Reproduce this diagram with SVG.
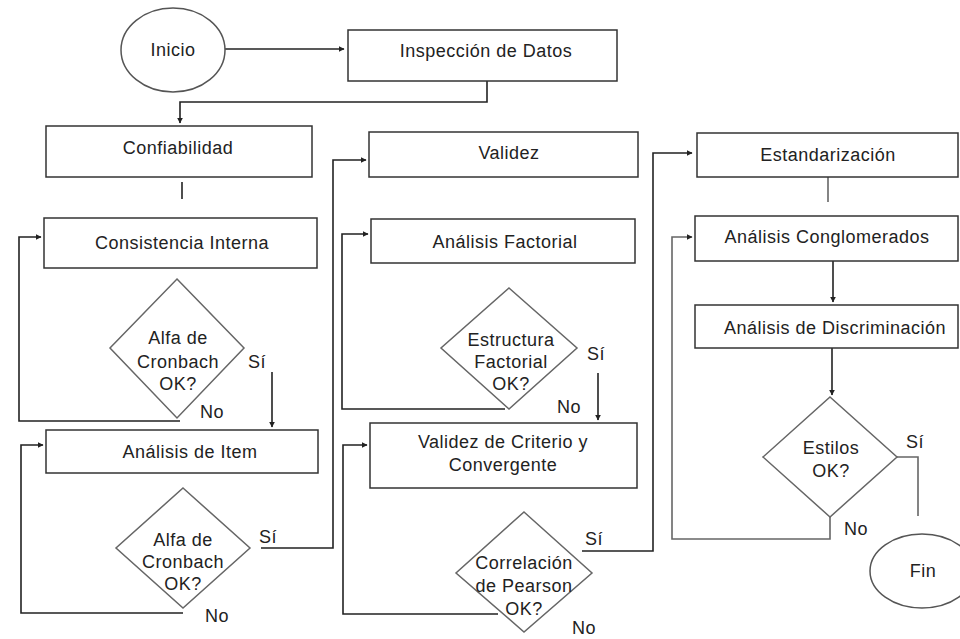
<svg xmlns="http://www.w3.org/2000/svg" width="960" height="639" viewBox="0 0 960 639">
<defs>
<style>
.box{fill:#fff;stroke:#333;stroke-width:1.5}
.dia{fill:#fff;stroke:#666;stroke-width:1.5}
.ell{fill:#fff;stroke:#555;stroke-width:1.5}
text{font-family:"Liberation Sans",Arial,sans-serif;font-size:18px;fill:#222;letter-spacing:0.5px}
.c{text-anchor:middle}
.ln{fill:none;stroke:#222;stroke-width:1.6}
.gl{fill:none;stroke:#666;stroke-width:1.6}
.ar{marker-end:url(#ah)}
</style>
<marker id="ah" viewBox="0 0 10 10" refX="9" refY="5" markerWidth="6" markerHeight="6" markerUnits="userSpaceOnUse" orient="auto">
<path d="M0,0 L10,5 L0,10 z" fill="#222"/>
</marker>
</defs>
<rect width="960" height="639" fill="#fff"/>

<g id="connectors">
<line class="ln ar" x1="225" y1="49" x2="344" y2="49"/>
<polyline class="ln ar" points="487,81 487,102 180,102 180,123"/>
<line class="ln" x1="182" y1="182" x2="182" y2="199"/>
<polyline class="ln ar" points="180,421 19,421 19,237 41,237"/>
<line class="ln ar" x1="272" y1="372" x2="272" y2="427"/>
<polyline class="ln ar" points="183,613 21,613 21,445 43,445"/>
<polyline class="ln ar" points="261,548 333,548 333,160 366,160"/>
<polyline class="ln ar" points="505,409 342,409 342,234 368,234"/>
<line class="ln ar" x1="598" y1="373" x2="598" y2="420"/>
<polyline class="ln ar" points="498,614 343,614 343,445 367,445"/>
<polyline class="ln ar" points="582,551 653,551 653,153 692,153"/>
<line class="gl" x1="828" y1="177" x2="828" y2="202"/>
<line class="ln ar" x1="833" y1="261" x2="833" y2="302"/>
<line class="ln ar" x1="832" y1="348" x2="832" y2="395"/>
<polyline class="gl ar" points="830,517 830,539 672,539 672,237 692,237"/>
<polyline class="gl" points="897,457 918,457 918,516"/>
</g>

<g id="inicio">
<ellipse class="ell" cx="173" cy="50" rx="52" ry="42"/>
<text class="c" x="173" y="56">Inicio</text>
</g>
<g id="inspeccion">
<rect class="box" x="348" y="30" width="269" height="51"/>
<text class="c" x="486" y="57">Inspección de Datos</text>
</g>
<g id="confiabilidad">
<rect class="box" x="46" y="126" width="266" height="51"/>
<text class="c" x="178" y="154">Confiabilidad</text>
</g>
<g id="consistencia">
<rect class="box" x="44" y="218" width="273" height="50"/>
<text class="c" x="182" y="249">Consistencia Interna</text>
</g>
<g id="decision1">
<polygon class="dia" points="177,279 244,348 177,418 110,348"/>
<text class="c" x="178" y="344">Alfa de</text>
<text class="c" x="178" y="368">Cronbach</text>
<text class="c" x="178" y="390">OK?</text>
<text x="248" y="368">Sí</text>
<text x="200" y="418">No</text>
</g>
<g id="item">
<rect class="box" x="46" y="430" width="272" height="43"/>
<text class="c" x="190" y="458">Análisis de Item</text>
</g>
<g id="decision2">
<polygon class="dia" points="183,488 250,548 183,608 116,548"/>
<text class="c" x="183" y="546">Alfa de</text>
<text class="c" x="183" y="568">Cronbach</text>
<text class="c" x="183" y="590">OK?</text>
<text x="259" y="543">Sí</text>
<text x="205" y="622">No</text>
</g>
<g id="validez">
<rect class="box" x="369" y="132" width="269" height="45"/>
<text class="c" x="509" y="159">Validez</text>
</g>
<g id="factorial">
<rect class="box" x="371" y="219" width="264" height="44"/>
<text class="c" x="505" y="248">Análisis Factorial</text>
</g>
<g id="decision3">
<polygon class="dia" points="509,288 577,348 509,409 441,348"/>
<text class="c" x="511" y="346">Estructura</text>
<text class="c" x="511" y="368">Factorial</text>
<text class="c" x="511" y="390">OK?</text>
<text x="587" y="360">Sí</text>
<text x="557" y="413">No</text>
</g>
<g id="criterio">
<rect class="box" x="370" y="423" width="267" height="65"/>
<text class="c" x="503" y="448">Validez de Criterio y</text>
<text class="c" x="503" y="471">Convergente</text>
</g>
<g id="decision4">
<polygon class="dia" points="524,512 592,573 524,632 456,573"/>
<text class="c" x="524" y="569">Correlación</text>
<text class="c" x="524" y="592">de Pearson</text>
<text class="c" x="524" y="615">OK?</text>
<text x="585" y="545">Sí</text>
<text x="572" y="634">No</text>
</g>
<g id="estandarizacion">
<rect class="box" x="697" y="133" width="261" height="44"/>
<text class="c" x="828" y="161">Estandarización</text>
</g>
<g id="conglomerados">
<rect class="box" x="695" y="216" width="263" height="45"/>
<text class="c" x="827" y="243">Análisis Conglomerados</text>
</g>
<g id="discriminacion">
<rect class="box" x="695" y="305" width="263" height="43"/>
<text class="c" x="835" y="334">Análisis de Discriminación</text>
</g>
<g id="decision5">
<polygon class="dia" points="830,397 897,457 830,517 763,457"/>
<text class="c" x="831" y="454">Estilos</text>
<text class="c" x="831" y="477">OK?</text>
<text x="906" y="448">Sí</text>
<text x="844" y="535">No</text>
</g>
<g id="fin">
<ellipse class="ell" cx="922" cy="571" rx="52" ry="37"/>
<text class="c" x="923" y="577">Fin</text>
</g>
</svg>
